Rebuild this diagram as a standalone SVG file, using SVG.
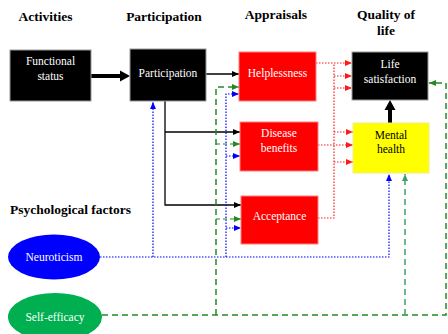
<svg xmlns="http://www.w3.org/2000/svg" width="448" height="334" viewBox="0 0 448 334">
  <defs>
    <style>
      .title { font-family: "Liberation Serif", "Times New Roman", serif; font-weight: bold; font-size: 13.5px; fill: #000; }
      .lbl { font-family: "Liberation Serif", "Times New Roman", serif; font-size: 11.5px; text-anchor: middle; fill: #fff; }
      .lbl.dark { fill: #000; }
      .box-black { fill: #000; stroke: #999; stroke-width: 1; }
      .box-red { fill: #ff0000; stroke: #ff8080; stroke-width: 1; }
      .box-yellow { fill: #ffff00; stroke: #eeee88; stroke-width: 1; }
      .solid { fill: none; stroke: #000; stroke-width: 1.3; }
      .thick { fill: none; stroke: #000; stroke-width: 4; }
      .red { fill: none; stroke: #ff1a1a; stroke-width: 1.2; stroke-dasharray: 1.5 1.5; }
      .blue { fill: none; stroke: #0000ff; stroke-width: 1.2; stroke-dasharray: 1.5 1.5; }
      .green { fill: none; stroke: #238a23; stroke-width: 1.5; stroke-dasharray: 6 4; }
      .green-thin { fill: none; stroke: #238a23; stroke-width: 1.2; stroke-dasharray: 4 3; }
      .teal { fill: none; stroke: #3f9f6a; stroke-width: 1.5; stroke-dasharray: 6 4; }
    </style>
    <marker id="ah-black" markerUnits="userSpaceOnUse" markerWidth="7" markerHeight="6" refX="7" refY="3" orient="auto">
      <path d="M0,0 L7,3 L0,6 z" fill="#000"/>
    </marker>
    <marker id="ah-red" markerUnits="userSpaceOnUse" markerWidth="7" markerHeight="6" refX="7" refY="3" orient="auto">
      <path d="M0,0 L7,3 L0,6 z" fill="#ff1a1a"/>
    </marker>
    <marker id="ah-blue" markerUnits="userSpaceOnUse" markerWidth="7" markerHeight="6" refX="7" refY="3" orient="auto">
      <path d="M0,0 L7,3 L0,6 z" fill="#0000ff"/>
    </marker>
    <marker id="ah-green" markerUnits="userSpaceOnUse" markerWidth="7" markerHeight="6" refX="7" refY="3" orient="auto">
      <path d="M0,0 L7,3 L0,6 z" fill="#238a23"/>
    </marker>
    <marker id="ah-teal" markerUnits="userSpaceOnUse" markerWidth="7" markerHeight="6" refX="7" refY="3" orient="auto">
      <path d="M0,0 L7,3 L0,6 z" fill="#3f9f6a"/>
    </marker>
  </defs>

  <rect width="448" height="334" fill="#fff"/>

  <!-- column headings -->
  <g id="headings">
    <text class="title" x="45.5" y="21" text-anchor="middle">Activities</text>
    <text class="title" x="164" y="21" text-anchor="middle">Participation</text>
    <text class="title" x="276" y="19" text-anchor="middle">Appraisals</text>
    <text class="title" x="386" y="19" text-anchor="middle">Quality of</text>
    <text class="title" x="386" y="35" text-anchor="middle">life</text>
    <text class="title" x="10" y="214">Psychological factors</text>
  </g>

  <!-- connectors -->
  <g id="connectors">
    <!-- participation paths -->
    <path class="solid" d="M206,74 H239" marker-end="url(#ah-black)"/>
    <path class="solid" d="M165,101 V205 H241" marker-end="url(#ah-black)"/>
    <path class="solid" d="M165,132 H240" marker-end="url(#ah-black)"/>

    <!-- functional status -> participation -->
    <path class="thick" d="M91,76 H121"/>
    <polygon points="120,70.5 130,76 120,81.5" fill="#000"/>

    <!-- mental health -> life satisfaction -->
    <path class="thick" d="M390,123 V109"/>
    <polygon points="384.5,110 390,100 395.5,110" fill="#000"/>

    <!-- appraisals -> outcomes -->
    <path class="red" d="M316,63 H352" marker-end="url(#ah-red)"/>
    <path class="red" d="M318,218 H334 V63"/>
    <path class="red" d="M334,76 H352" marker-end="url(#ah-red)"/>
    <path class="red" d="M334,88 H352" marker-end="url(#ah-red)"/>
    <path class="red" d="M334,132 H353" marker-end="url(#ah-red)"/>
    <path class="red" d="M318,145 H353" marker-end="url(#ah-red)"/>
    <path class="red" d="M334,162 H353" marker-end="url(#ah-red)"/>

    <!-- neuroticism -->
    <path class="blue" d="M100,257 H389 V174" marker-end="url(#ah-blue)"/>
    <path class="blue" d="M153,257 V102" marker-end="url(#ah-blue)"/>
    <path class="blue" d="M226,257 V94 H239" marker-end="url(#ah-blue)"/>
    <path class="blue" d="M226,156 H240" marker-end="url(#ah-blue)"/>
    <path class="blue" d="M226,228 H241" marker-end="url(#ah-blue)"/>

    <!-- self-efficacy -->
    <path class="green" d="M102,315 H446 V83 H429" marker-end="url(#ah-green)"/>
    <path class="green" d="M216,315 V87 H239" marker-end="url(#ah-green)"/>
    <path class="green-thin" d="M216,144 H240" marker-end="url(#ah-green)"/>
    <path class="green-thin" d="M216,219 H241" marker-end="url(#ah-green)"/>
    <path class="teal" d="M405,315 V174" marker-end="url(#ah-teal)"/>
  </g>

  <!-- nodes -->
  <g id="functional-status">
    <rect class="box-black" x="10" y="50" width="81" height="51"/>
    <text class="lbl" x="50.5" y="65">Functional</text>
    <text class="lbl" x="50.5" y="80">status</text>
  </g>
  <g id="participation">
    <rect class="box-black" x="130" y="49" width="76" height="52"/>
    <text class="lbl" x="168" y="77">Participation</text>
  </g>
  <g id="helplessness">
    <rect class="box-red" x="239" y="52" width="77" height="49"/>
    <text class="lbl" x="277.5" y="77">Helplessness</text>
  </g>
  <g id="disease-benefits">
    <rect class="box-red" x="240" y="122" width="78" height="49"/>
    <text class="lbl" x="279" y="137">Disease</text>
    <text class="lbl" x="279" y="152">benefits</text>
  </g>
  <g id="acceptance">
    <rect class="box-red" x="241" y="196" width="77" height="48"/>
    <text class="lbl" x="279.5" y="220">Acceptance</text>
  </g>
  <g id="life-satisfaction">
    <rect class="box-black" x="352" y="52" width="76" height="48"/>
    <text class="lbl" x="390" y="68">Life</text>
    <text class="lbl" x="390" y="83">satisfaction</text>
  </g>
  <g id="mental-health">
    <rect class="box-yellow" x="353" y="123" width="76" height="50"/>
    <text class="lbl dark" x="391" y="139">Mental</text>
    <text class="lbl dark" x="391" y="153">health</text>
  </g>
  <g id="neuroticism">
    <ellipse cx="54" cy="257" rx="46" ry="22.5" fill="#0000ff"/>
    <text class="lbl" x="54" y="261">Neuroticism</text>
  </g>
  <g id="self-efficacy">
    <ellipse cx="55" cy="317" rx="47" ry="24" fill="#00b050"/>
    <text class="lbl" x="55" y="321">Self-efficacy</text>
  </g>
</svg>
